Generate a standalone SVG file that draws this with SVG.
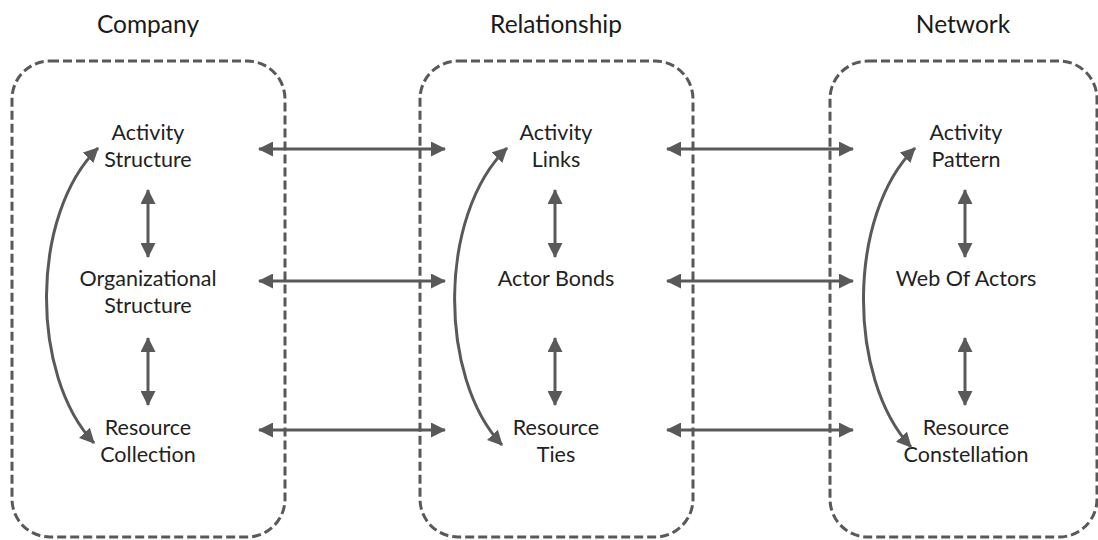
<svg xmlns="http://www.w3.org/2000/svg" width="1098" height="540" viewBox="0 0 1098 540">
<style>
.box{fill:none;stroke:#595959;stroke-width:3;stroke-dasharray:9 4}
.hdr{font-family:Lato,"Open Sans","Liberation Sans",sans-serif;font-size:24.5px;fill:#1a1a1a;text-anchor:middle}
.lbl{font-family:Lato,"Open Sans","Liberation Sans",sans-serif;font-size:21.5px;fill:#222222;text-anchor:middle}
.con{fill:none;stroke:#595959;stroke-width:3}
.dbl{marker-start:url(#ah);marker-end:url(#ah)}
</style>
<defs>
<marker id="ah" viewBox="0 0 15 15" refX="14" refY="7.5" markerWidth="15" markerHeight="15" markerUnits="userSpaceOnUse" orient="auto-start-reverse">
<path d="M0,0 L15,7.5 L0,15 z" fill="#595959"/>
</marker>
</defs>
<rect width="1098" height="540" fill="#ffffff"/>
<g id="company">
<rect class="box" x="12" y="61" width="273" height="476" rx="38" ry="38"/>
<text class="hdr" x="148" y="33">Company</text>
</g>
<g id="relationship">
<rect class="box" x="420" y="61" width="273" height="476" rx="38" ry="38"/>
<text class="hdr" x="556" y="33">Relationship</text>
</g>
<g id="network">
<rect class="box" x="830" y="61" width="267" height="476" rx="38" ry="38"/>
<text class="hdr" x="963" y="33">Network</text>
</g>
<g id="activity-structure"><text class="lbl" x="148" y="140">Activity</text><text class="lbl" x="148" y="167">Structure</text></g>
<g id="organizational-structure"><text class="lbl" x="148" y="286">Organizational</text><text class="lbl" x="148" y="313">Structure</text></g>
<g id="resource-collection"><text class="lbl" x="148" y="435">Resource</text><text class="lbl" x="148" y="462">Collection</text></g>
<g id="activity-links"><text class="lbl" x="556" y="140">Activity</text><text class="lbl" x="556" y="167">Links</text></g>
<g id="actor-bonds"><text class="lbl" x="556" y="286">Actor Bonds</text></g>
<g id="resource-ties"><text class="lbl" x="556" y="435">Resource</text><text class="lbl" x="556" y="462">Ties</text></g>
<g id="activity-pattern"><text class="lbl" x="966" y="140">Activity</text><text class="lbl" x="966" y="167">Pattern</text></g>
<g id="web-of-actors"><text class="lbl" x="966" y="286">Web Of Actors</text></g>
<g id="resource-constellation"><text class="lbl" x="966" y="435">Resource</text><text class="lbl" x="966" y="462">Constellation</text></g>
<g id="connectors">
<line class="con dbl" x1="259" y1="149" x2="445" y2="149"/>
<line class="con dbl" x1="259" y1="281" x2="445" y2="281"/>
<line class="con dbl" x1="259" y1="430" x2="445" y2="430"/>
<line class="con dbl" x1="667" y1="149" x2="853" y2="149"/>
<line class="con dbl" x1="667" y1="281" x2="853" y2="281"/>
<line class="con dbl" x1="667" y1="430" x2="853" y2="430"/>
<line class="con dbl" x1="148" y1="190" x2="148" y2="257"/>
<line class="con dbl" x1="148" y1="338" x2="148" y2="405"/>
<line class="con dbl" x1="555" y1="190" x2="555" y2="257"/>
<line class="con dbl" x1="555" y1="338" x2="555" y2="405"/>
<line class="con dbl" x1="965" y1="190" x2="965" y2="257"/>
<line class="con dbl" x1="965" y1="338" x2="965" y2="405"/>
<path class="con dbl" d="M94,443 C30,375 30,215 98,148"/>
<path class="con dbl" d="M502,445 C438,377 438,215 507,148"/>
<path class="con dbl" d="M911,447 C847,378 847,215 915,148"/>
</g>
</svg>
